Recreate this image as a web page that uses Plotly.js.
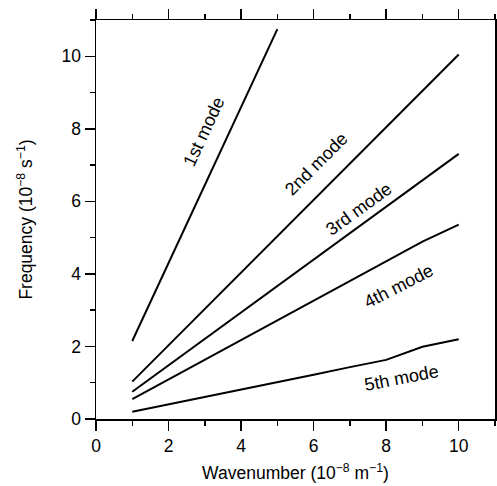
<!DOCTYPE html>
<html>
<head>
<meta charset="utf-8">
<script src="https://cdn.plot.ly/plotly-3.0.1.min.js"></script>
<style>html,body{margin:0;padding:0;background:#fff;}</style>
</head>
<body>
<div id="chart" style="width:497px;height:486px;"></div>
<script>
// Data
const modeNames = ["1st mode", "2nd mode", "3rd mode", "4th mode", "5th mode"];
const wavenumber1 = [1, 2, 3, 4, 5];
const freq1 = [2.15, 4.3, 6.45, 8.6, 10.75];
const wavenumber = [1, 2, 3, 4, 5, 6, 7, 8, 9, 10];
const freq2 = [1.03, 2.03, 3.03, 4.03, 5.04, 6.04, 7.04, 8.05, 9.05, 10.05];
const freq3 = [0.75, 1.48, 2.21, 2.94, 3.67, 4.40, 5.12, 5.85, 6.58, 7.31];
const freq4 = [0.55, 1.09, 1.63, 2.17, 2.71, 3.25, 3.79, 4.33, 4.89, 5.36];
const freq5 = [0.20, 0.40, 0.61, 0.81, 1.02, 1.22, 1.43, 1.63, 1.99, 2.20];
const xTickVals = [0, 2, 4, 6, 8, 10];
const yTickVals = [0, 2, 4, 6, 8, 10];
// label anchor positions (data coords) and angles
const labelX = [2.99, 6.07, 7.25, 8.35, 8.43];
const labelY = [7.93, 7.04, 5.78, 3.67, 1.13];
const labelAngle = [-65, -45, -36, -27, -11];

const series = [[wavenumber1, freq1], [wavenumber, freq2], [wavenumber, freq3], [wavenumber, freq4], [wavenumber, freq5]];
const traces = series.map((s, i) => ({
  x: s[0], y: s[1], type: 'scatter', mode: 'lines', name: modeNames[i],
  line: {color: '#000', width: 2}, hoverinfo: 'skip'
}));

const font = {family: '"Liberation Sans", Arial, Helvetica, sans-serif', color: '#000'};
const annotations = modeNames.map((t, i) => ({
  x: labelX[i], y: labelY[i], xref: 'x', yref: 'y', text: t, showarrow: false,
  textangle: labelAngle[i], font: Object.assign({}, font, {size: 18})
}));

const axisCommon = {
  range: [0, 11], showgrid: false, zeroline: false, showline: true,
  linecolor: '#000', linewidth: 1.5, mirror: 'ticks',
  ticks: 'outside', ticklen: 10, tickwidth: 1.5, tickcolor: '#000',
  tickfont: Object.assign({}, font, {size: 17.5}),
  minor: {dtick: 1, ticks: 'outside', ticklen: 5, tickwidth: 1.5, tickcolor: '#000'},
  fixedrange: true
};

const layout = {
  width: 497, height: 486,
  margin: {l: 96, r: 2, t: 20, b: 67},
  paper_bgcolor: '#fff', plot_bgcolor: '#fff',
  showlegend: false,
  font: font,
  xaxis: Object.assign({}, axisCommon, {
    tickvals: xTickVals, ticktext: xTickVals.map(String),
    title: {text: 'Wavenumber (10<sup>\u22128</sup> m<sup>\u22121</sup>)', font: Object.assign({}, font, {size: 17.5}), standoff: 12}
  }),
  yaxis: Object.assign({}, axisCommon, {
    tickvals: yTickVals, ticktext: yTickVals.map(String),
    title: {text: 'Frequency (10<sup>\u22128</sup> s<sup>\u22121</sup>)', font: Object.assign({}, font, {size: 17.5}), standoff: 24}
  }),
  annotations: annotations
};

Plotly.newPlot('chart', traces, layout, {displayModeBar: false, staticPlot: true});
</script>
</body>
</html>
